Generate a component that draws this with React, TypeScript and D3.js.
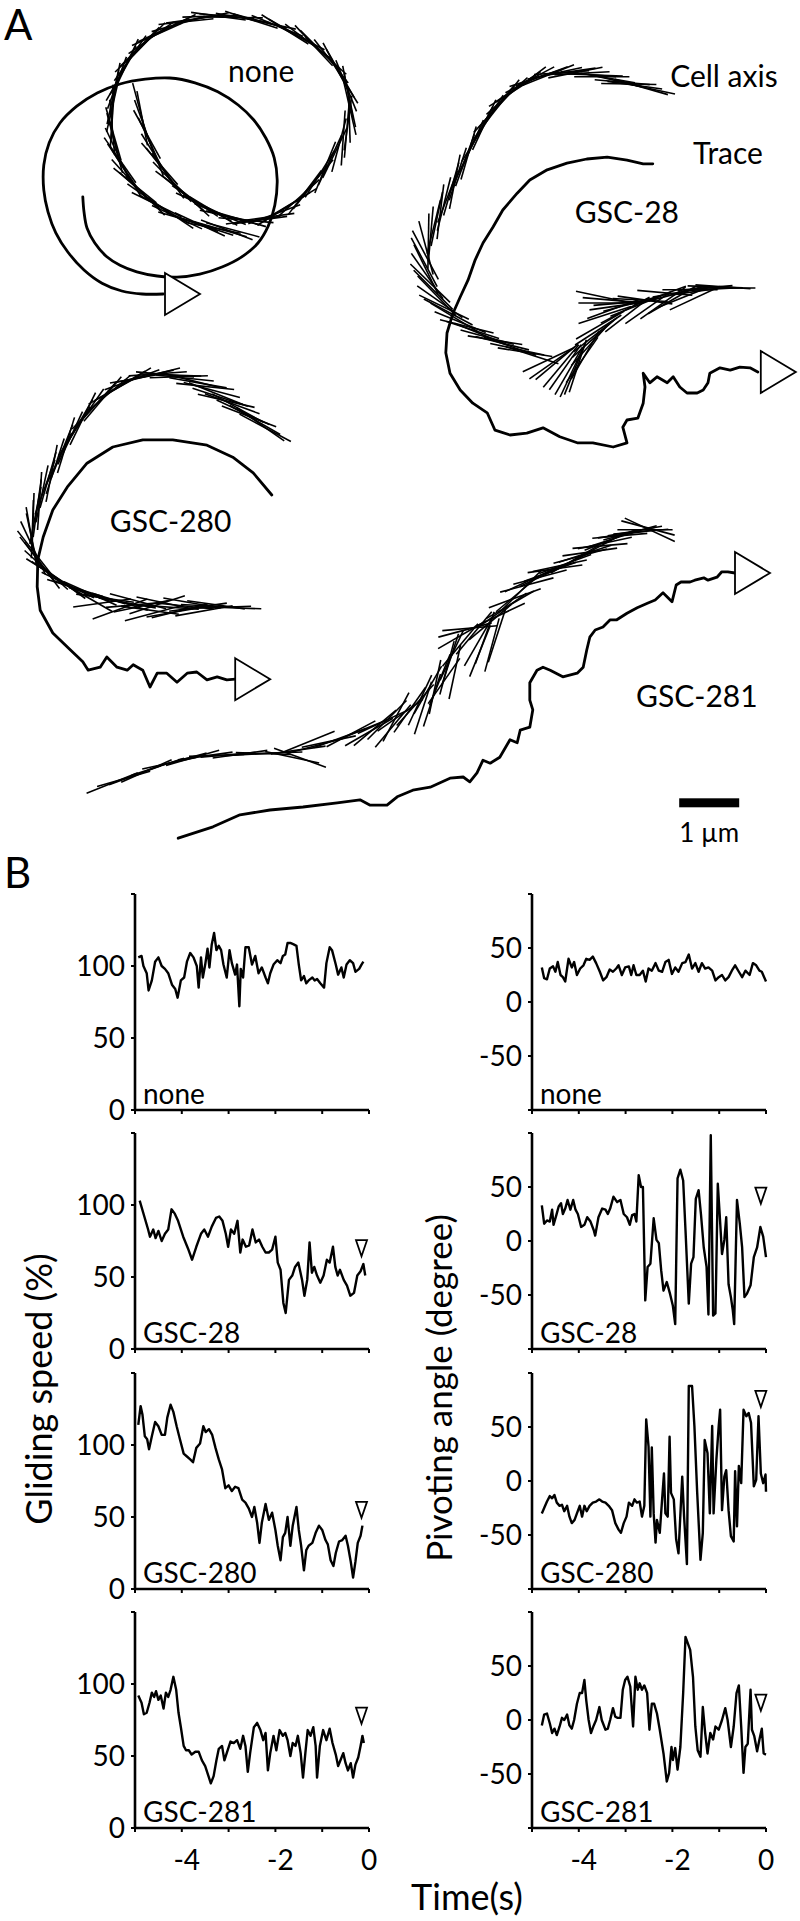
import React from 'react';
import * as d3 from 'd3';

const FONT = 'Lato, "Open Sans", "DejaVu Sans", sans-serif';

// ---------- Panel A: trajectories, in µm (scale bar = 1 µm) ----------
const UM_PX = 60;

// trace points [x, y]
const NONE_TRACE = [[1.38,3.28],[1.40,3.53],[1.45,3.80],[1.58,4.05],[1.77,4.27],[2.00,4.42],[2.28,4.53],[2.62,4.60],[2.95,4.62],[3.33,4.57],[3.70,4.45],[4.03,4.28],[4.30,4.05],[4.47,3.77],[4.58,3.42],[4.62,3.00],[4.57,2.63],[4.43,2.30],[4.23,2.00],[3.97,1.75],[3.63,1.53],[3.25,1.38],[2.83,1.30],[2.42,1.32],[2.00,1.40],[1.62,1.55],[1.28,1.77],[1.00,2.05],[0.82,2.38],[0.73,2.75],[0.73,3.17],[0.80,3.53],[0.93,3.88],[1.13,4.20],[1.40,4.50],[1.70,4.72],[2.03,4.85],[2.37,4.90],[2.72,4.90]];
const GSC28_TRACE = [[10.88,2.73],[10.72,2.73],[10.45,2.67],[10.12,2.62],[9.78,2.65],[9.45,2.72],[9.12,2.83],[8.83,3.00],[8.62,3.22],[8.38,3.50],[8.22,3.78],[8.05,4.05],[7.92,4.33],[7.80,4.67],[7.67,4.95],[7.55,5.22],[7.45,5.55],[7.43,5.88],[7.50,6.22],[7.67,6.50],[7.88,6.72],[8.12,6.88],[8.25,7.17],[8.50,7.25],[8.78,7.22],[9.05,7.13],[9.33,7.28],[9.62,7.38],[9.88,7.38],[10.22,7.45],[10.45,7.38],[10.38,7.12],[10.45,7.00],[10.63,6.97],[10.72,6.72],[10.75,6.45],[10.72,6.22],[10.83,6.38],[10.95,6.28],[11.12,6.38],[11.22,6.28],[11.33,6.45],[11.45,6.55],[11.62,6.55],[11.72,6.50],[11.80,6.38],[11.83,6.22],[12.00,6.13],[12.17,6.17],[12.33,6.12],[12.50,6.13],[12.63,6.20]];
const GSC280_TRACE = [[4.53,8.25],[4.22,7.88],[3.88,7.62],[3.45,7.42],[2.88,7.33],[2.38,7.33],[1.88,7.45],[1.45,7.72],[1.12,8.12],[0.88,8.50],[0.72,8.95],[0.63,9.33],[0.62,9.78],[0.67,10.17],[0.88,10.55],[1.17,10.83],[1.38,11.03],[1.47,11.17],[1.67,11.12],[1.78,10.95],[1.95,11.12],[2.12,11.17],[2.22,11.08],[2.38,11.17],[2.50,11.45],[2.62,11.22],[2.78,11.22],[2.95,11.37],[3.12,11.22],[3.28,11.20],[3.45,11.33],[3.62,11.28],[3.78,11.33],[3.92,11.32]];
const GSC281_TRACE = [[2.97,13.97],[3.55,13.78],[4.00,13.58],[4.50,13.50],[5.05,13.45],[5.62,13.38],[6.00,13.33],[6.17,13.42],[6.45,13.42],[6.62,13.28],[6.88,13.17],[7.17,13.12],[7.50,12.97],[7.72,12.95],[7.83,13.03],[7.95,12.88],[8.05,12.67],[8.17,12.72],[8.33,12.62],[8.50,12.33],[8.62,12.38],[8.67,12.17],[8.83,12.12],[8.88,11.83],[8.83,11.67],[8.83,11.38],[8.95,11.17],[9.05,11.12],[9.17,11.17],[9.38,11.28],[9.62,11.22],[9.72,11.12],[9.78,10.83],[9.83,10.62],[9.92,10.50],[10.05,10.45],[10.17,10.33],[10.28,10.33],[10.45,10.22],[10.62,10.13],[10.80,10.05],[10.92,10.00],[11.05,9.88],[11.20,10.03],[11.27,9.75],[11.35,9.70],[11.50,9.70],[11.58,9.67],[11.73,9.63],[11.80,9.67],[11.95,9.62],[12.03,9.53],[12.13,9.53],[12.25,9.55]];

// cell axis samples [x, y, angle in degrees]
const NONE_AXIS = [[2.33,1.83,75],[2.40,2.10,70],[2.50,2.38,65],[2.60,2.62,58],[2.72,2.83,52],[2.87,3.03,46],[3.05,3.22,40],[3.25,3.35,34],[3.45,3.47,28],[3.67,3.57,22],[3.88,3.63,15],[4.10,3.67,5],[4.33,3.67,-8],[4.57,3.57,-20],[4.78,3.45,-32],[4.98,3.30,-42],[5.17,3.12,-52],[5.33,2.90,-58],[5.50,2.67,-65],[5.65,2.42,-75],[5.78,2.17,-85],[5.82,1.92,88],[5.83,1.67,78],[5.77,1.43,68],[5.67,1.22,60],[5.52,1.02,52],[5.33,0.83,45],[5.12,0.68,37],[4.88,0.55,30],[4.62,0.43,22],[4.33,0.35,15],[4.05,0.30,10],[3.78,0.27,5],[3.50,0.27,-2],[3.22,0.32,-8],[2.97,0.40,-16],[2.72,0.50,-25],[2.52,0.63,-35],[2.33,0.78,-45],[2.17,0.97,-55],[2.05,1.17,-62],[1.95,1.38,-70],[1.88,1.62,-78],[1.87,1.87,-88],[1.87,2.12,85],[1.90,2.33,75],[1.95,2.55,65],[2.05,2.78,56],[2.17,3.00,48],[2.33,3.18,42],[2.50,3.33,35],[2.72,3.48,30],[2.95,3.62,25],[3.20,3.70,20],[3.45,3.78,18],[3.67,3.82,16],[3.88,3.83,15],
  [2.37,1.97,79],[2.45,2.24,61],[2.55,2.50,68],[2.66,2.73,49],[2.80,2.93,55],[2.96,3.13,37],[3.15,3.29,43],[3.35,3.41,25],[3.56,3.52,31],[3.78,3.60,12],[3.99,3.65,16],[4.22,3.67,-8],[4.45,3.62,-8],[4.68,3.51,-32],[4.88,3.38,-31],[5.08,3.21,-53],[5.25,3.01,-49],[5.42,2.79,-68],[5.58,2.55,-64],[5.72,2.30,-86],[5.80,2.05,-82],[5.83,1.80,77],[5.80,1.55,79],[5.72,1.33,58],[5.60,1.12,62],[5.43,0.93,42],[5.23,0.76,47],[5.00,0.62,27],[4.75,0.49,32],[4.48,0.39,12],[4.19,0.33,18],[3.92,0.29,1],[3.64,0.27,8],[3.36,0.30,-11],[3.10,0.36,-6],[2.85,0.45,-27],[2.62,0.57,-24],[2.43,0.71,-46],[2.25,0.88,-44],[2.11,1.07,-65],[2.00,1.28,-60],[1.92,1.50,-80],[1.88,1.75,-77],[1.87,2.00,-86],[1.89,2.23,74],[1.93,2.44,76],[2.00,2.67,55],[2.11,2.89,58],[2.25,3.09,39],[2.42,3.26,45],[2.61,3.41,26],[2.84,3.55,34],[3.08,3.66,16],[3.33,3.74,25],[3.56,3.80,11],[3.78,3.83,21]];
const GSC28_AXIS = [[10.80,1.47,12],[10.58,1.42,8],[10.37,1.37,5],[10.13,1.30,10],[9.92,1.25,2],[9.70,1.22,-3],[9.47,1.20,-8],[9.25,1.22,-12],[9.03,1.27,-20],[8.83,1.33,-28],[8.63,1.45,-34],[8.45,1.60,-42],[8.28,1.77,-50],[8.13,1.97,-56],[8.00,2.18,-62],[7.87,2.42,-66],[7.75,2.67,-70],[7.63,2.90,-72],[7.52,3.15,-74],[7.40,3.40,-76],[7.28,3.65,-78],[7.18,3.90,-85],[7.10,4.13,75],[7.07,4.37,62],[7.12,4.60,55],[7.22,4.83,45],[7.33,5.03,35],[7.47,5.20,28],[7.67,5.37,22],[7.88,5.50,18],[8.12,5.62,15],[8.37,5.72,14],[8.62,5.82,12],[8.87,5.92,18],[9.13,6.00,-25],[9.28,6.03,-40],[9.42,6.12,-55],[9.53,6.20,-65],[9.63,6.10,-72],[9.75,5.92,-60],[9.83,5.75,-48],[9.92,5.58,-38],[10.00,5.42,-30],[10.08,5.25,-18],[10.05,4.95,12],[10.17,5.00,5],[10.28,5.10,-8],[10.42,5.17,-28],[10.50,5.07,-15],[10.67,5.00,3],[10.80,5.13,-35],[11.00,4.93,-20],[11.08,4.88,5],[11.20,5.00,-30],[11.33,4.87,-10],[11.50,4.83,0],[11.58,4.97,-25],[11.75,4.80,-5],[11.92,4.78,2],[12.13,4.80,0],
  [10.69,1.45,16],[10.48,1.40,1],[10.25,1.34,13],[10.03,1.28,0],[9.81,1.24,5],[9.59,1.21,-11],[9.36,1.21,-4],[9.14,1.25,-22],[8.93,1.30,-18],[8.73,1.39,-37],[8.54,1.53,-32],[8.37,1.69,-52],[8.21,1.87,-47],[8.07,2.08,-65],[7.94,2.30,-58],[7.81,2.55,-74],[7.69,2.79,-65],[7.58,3.03,-79],[7.46,3.28,-69],[7.34,3.53,-83],[7.23,3.78,-76],[7.14,4.02,-89],[7.09,4.25,62],[7.10,4.49,64],[7.17,4.72,44],[7.28,4.93,46],[7.40,5.12,26],[7.57,5.29,31],[7.78,5.44,14],[8.00,5.56,22],[8.25,5.67,9],[8.50,5.77,19],[8.75,5.87,9],
  [9.20,6.05,-35],[9.35,6.10,-50],[9.48,6.18,-60],[9.58,6.15,-68],[9.70,6.00,-55],[9.88,5.65,-42],[9.97,5.50,-33],[10.10,5.05,0],[10.22,5.15,-20],[10.35,5.05,-5],[10.45,5.25,-38],[10.60,5.10,-22],[10.75,5.00,8],[11.05,5.05,-35],[11.25,4.90,-15],[11.40,4.95,-22],[11.65,4.85,-8],[11.85,4.82,-3],[12.05,4.78,4]];
const GSC280_AXIS = [[4.42,7.13,28],[4.25,7.00,30],[4.05,6.87,25],[3.87,6.73,20],[3.67,6.62,18],[3.53,6.50,15],[3.30,6.38,10],[3.08,6.30,6],[2.87,6.25,2],[2.63,6.23,-4],[2.42,6.27,-12],[2.20,6.33,-20],[2.00,6.43,-30],[1.80,6.57,-40],[1.62,6.72,-48],[1.45,6.88,-55],[1.30,7.08,-60],[1.17,7.30,-65],[1.03,7.53,-68],[0.92,7.77,-72],[0.80,8.00,-74],[0.70,8.23,-78],[0.62,8.47,-82],[0.55,8.70,-88],[0.52,8.93,80],[0.55,9.13,65],[0.63,9.33,52],[0.77,9.50,42],[0.93,9.63,34],[1.13,9.75,26],[1.37,9.85,20],[1.62,9.93,16],[1.87,10.00,12],[2.12,10.05,10],[2.37,10.10,-12],[2.50,10.17,8],[2.62,10.08,-18],[2.83,10.12,4],[2.92,10.20,-10],[3.08,10.10,6],[3.30,10.12,-8],[3.50,10.10,3],[3.70,10.12,-2],[3.87,10.13,2],
  [4.34,7.07,35],[4.15,6.94,21],[3.96,6.80,29],[3.77,6.68,13],[3.60,6.56,22],[3.42,6.44,6],[3.19,6.34,14],[2.98,6.28,-2],[2.75,6.24,5],[2.53,6.25,-14],[2.31,6.30,-10],[2.10,6.38,-31],[1.90,6.50,-29],[1.71,6.65,-50],[1.54,6.80,-46],[1.38,6.98,-64],[1.24,7.19,-57],[1.10,7.42,-73],[0.98,7.65,-64],[0.86,7.89,-79],[0.75,8.12,-70],[0.66,8.35,-86],[0.59,8.59,-79],[0.54,8.82,-88],[0.54,9.03,78],[0.59,9.23,52],[0.70,9.42,53],[0.85,9.57,32],[1.03,9.69,36],[1.25,9.80,17],[1.50,9.89,24],[1.75,9.97,8],[2.00,10.03,17],[2.25,10.08,-5],
  [2.00,10.15,-20],[2.30,10.02,15],[2.55,10.22,-15],[2.75,10.05,12],[3.00,10.18,-14],[3.20,10.05,10],[3.40,10.18,-10],[3.60,10.08,8],[1.70,10.05,-8],[1.45,9.95,30]];
const GSC281_AXIS = [[1.87,13.05,-22],[2.25,12.92,-20],[2.63,12.78,-18],[3.00,12.67,-15],[3.42,12.60,-8],[3.80,12.58,-5],[4.20,12.57,-3],[4.58,12.55,-2],[4.87,12.62,12],[4.97,12.50,-8],[5.00,12.63,20],[5.30,12.42,-15],[5.67,12.30,-20],[6.03,12.17,-22],[6.25,12.13,-40],[6.38,12.03,-25],[6.55,12.10,-50],[6.67,11.92,-35],[6.83,11.83,-55],[7.00,11.67,-65],[7.13,11.50,-60],[7.20,11.67,-72],[7.33,11.33,-68],[7.45,11.13,-75],[7.53,10.92,-65],[7.58,11.20,-78],[7.67,10.75,-50],[7.70,10.58,-30],[7.75,10.50,-15],[7.83,10.47,-5],[7.97,10.70,-60],[8.08,10.63,-70],[8.17,10.37,-40],[8.28,10.60,-72],[8.33,10.25,-25],[8.50,10.08,-30],[8.58,9.97,-20],[8.70,9.83,-45],[8.83,9.67,-25],[9.00,9.62,-15],[9.17,9.53,-20],[9.33,9.43,-12],[9.50,9.37,-25],[9.67,9.27,-15],[9.83,9.20,-8],[9.95,9.13,-28],[10.08,9.05,-12],[10.25,8.97,-18],[10.42,8.90,-8],[10.58,8.85,-10],[10.75,8.83,0],[10.83,8.83,25],
  [2.06,12.98,-16],[2.44,12.85,-24],[2.82,12.72,-12],[3.21,12.63,-16],[3.61,12.59,-2],[4.00,12.57,-8],[4.39,12.56,2],[5.15,12.36,-22],[5.48,12.36,-12],[5.85,12.23,-28],[6.15,12.20,-30],[6.45,12.00,-45],[6.60,11.95,-62],[6.92,11.75,-48],[7.05,11.80,-72],[7.25,11.45,-78],[7.40,11.35,-55],[7.50,11.00,-72],[7.90,10.55,-50],[8.00,10.85,-68],[8.20,10.75,-75],[8.40,10.15,-35],[8.62,9.90,-40],[8.78,9.75,-15],[9.08,9.58,-25],[9.25,9.48,-8],[9.42,9.40,-20],[9.58,9.32,-30],[9.75,9.23,-18],[10.00,9.10,-5],[10.17,9.00,-22],[10.33,8.93,-5],[10.50,8.88,-15],[10.68,8.86,-5],[10.80,8.80,15]];

const CELL_LENGTH = [0.92, 0.92, 0.97, 0.92];
const END_POINTS = [[2.75,4.90],[12.68,6.20],[3.92,11.32],[12.25,9.55]];

const A_LABELS = ['none', 'Cell axis', 'Trace', 'GSC-28', 'GSC-280', 'GSC-281'];
const A_LABEL_POS = [[3.80,1.37],[11.17,1.45],[11.55,2.73],[9.58,3.72],[1.83,8.87],[10.60,11.78]];
const SCALE_BAR_UM = 1;
const SCALE_BAR_POS = [11.32, 13.38];

// ---------- Panel B: time series [t (s), value] ----------
const GROUPS = ['none', 'GSC-28', 'GSC-280', 'GSC-281'];

const NONE_SPEED = [[-4.93,106],[-4.86,107],[-4.82,100],[-4.75,95],[-4.71,83],[-4.64,90],[-4.57,103],[-4.5,106],[-4.43,100],[-4.36,98],[-4.29,95],[-4.21,87],[-4.14,84],[-4.09,78],[-4.02,90],[-3.95,92],[-3.89,103],[-3.82,109],[-3.75,106],[-3.68,100],[-3.64,85],[-3.59,106],[-3.55,92],[-3.5,101],[-3.45,112],[-3.41,99],[-3.36,115],[-3.31,123],[-3.26,111],[-3.21,114],[-3.16,111],[-3.11,101],[-3.04,92],[-2.98,111],[-2.93,102],[-2.86,94],[-2.82,101],[-2.77,72],[-2.74,98],[-2.69,92],[-2.64,113],[-2.57,113],[-2.5,101],[-2.43,107],[-2.36,95],[-2.29,99],[-2.21,92],[-2.16,88],[-2.11,95],[-2.04,101],[-1.96,104],[-1.89,102],[-1.84,107],[-1.79,108],[-1.74,116],[-1.68,116],[-1.61,115],[-1.55,114],[-1.5,101],[-1.45,90],[-1.39,93],[-1.34,88],[-1.29,90],[-1.21,92],[-1.16,90],[-1.11,91],[-1.04,88],[-0.96,85],[-0.91,102],[-0.84,113],[-0.79,111],[-0.71,101],[-0.66,94],[-0.59,99],[-0.54,92],[-0.48,101],[-0.41,104],[-0.34,102],[-0.29,96],[-0.21,98],[-0.16,101],[-0.12,103]];
const GSC28_SPEED = [[-4.9,103],[-4.72,83],[-4.68,78],[-4.61,83],[-4.56,77],[-4.5,82],[-4.43,75],[-4.36,80],[-4.29,83],[-4.22,97],[-4.15,94],[-4.08,89],[-3.97,78],[-3.87,70],[-3.78,62],[-3.69,71],[-3.59,80],[-3.52,83],[-3.44,78],[-3.36,85],[-3.27,91],[-3.2,92],[-3.13,89],[-3.06,80],[-3.01,71],[-2.95,83],[-2.88,80],[-2.81,89],[-2.75,67],[-2.7,76],[-2.63,71],[-2.56,72],[-2.49,83],[-2.42,74],[-2.35,76],[-2.28,71],[-2.21,67],[-2.14,67],[-2.07,69],[-2.0,78],[-1.95,60],[-1.89,55],[-1.83,32],[-1.78,25],[-1.71,48],[-1.64,51],[-1.58,57],[-1.51,60],[-1.43,48],[-1.38,37],[-1.32,48],[-1.27,74],[-1.22,53],[-1.17,57],[-1.11,51],[-1.04,46],[-0.97,51],[-0.9,62],[-0.84,60],[-0.77,71],[-0.72,57],[-0.67,51],[-0.62,55],[-0.54,48],[-0.47,44],[-0.4,37],[-0.32,39],[-0.25,51],[-0.18,54],[-0.12,59],[-0.08,51]];
const GSC280_SPEED = [[-4.93,114],[-4.88,127],[-4.84,121],[-4.79,106],[-4.74,104],[-4.7,97],[-4.64,106],[-4.57,116],[-4.5,113],[-4.43,107],[-4.36,107],[-4.31,119],[-4.24,128],[-4.18,123],[-4.11,113],[-4.04,104],[-3.96,94],[-3.89,92],[-3.82,90],[-3.76,88],[-3.69,98],[-3.61,101],[-3.54,113],[-3.49,109],[-3.42,111],[-3.35,107],[-3.28,98],[-3.21,90],[-3.14,83],[-3.07,70],[-3.0,72],[-2.93,68],[-2.86,71],[-2.79,70],[-2.71,62],[-2.64,60],[-2.57,56],[-2.5,50],[-2.45,57],[-2.39,46],[-2.34,32],[-2.29,46],[-2.21,59],[-2.14,48],[-2.07,53],[-2.0,41],[-1.95,30],[-1.89,20],[-1.84,36],[-1.79,39],[-1.74,50],[-1.68,30],[-1.63,44],[-1.55,57],[-1.5,41],[-1.45,30],[-1.39,13],[-1.34,27],[-1.29,30],[-1.21,32],[-1.14,39],[-1.07,44],[-1.0,41],[-0.93,34],[-0.88,31],[-0.82,20],[-0.76,16],[-0.71,25],[-0.64,33],[-0.57,34],[-0.5,37],[-0.45,30],[-0.39,19],[-0.34,8],[-0.29,19],[-0.24,32],[-0.18,37],[-0.14,44]];
const GSC281_SPEED = [[-4.93,92],[-4.86,87],[-4.81,79],[-4.75,80],[-4.69,87],[-4.64,94],[-4.59,91],[-4.55,95],[-4.5,89],[-4.45,92],[-4.39,83],[-4.34,94],[-4.29,91],[-4.24,96],[-4.18,105],[-4.12,96],[-4.07,80],[-4.02,70],[-3.96,57],[-3.91,54],[-3.85,54],[-3.79,51],[-3.71,53],[-3.64,53],[-3.57,47],[-3.5,43],[-3.43,36],[-3.38,31],[-3.32,36],[-3.26,47],[-3.21,55],[-3.14,57],[-3.09,47],[-3.04,52],[-2.96,60],[-2.89,59],[-2.82,61],[-2.75,55],[-2.69,64],[-2.64,57],[-2.59,39],[-2.54,52],[-2.46,70],[-2.39,73],[-2.32,68],[-2.26,61],[-2.21,66],[-2.16,40],[-2.11,52],[-2.04,64],[-1.98,54],[-1.91,68],[-1.84,64],[-1.79,66],[-1.74,61],[-1.68,50],[-1.63,59],[-1.57,57],[-1.52,64],[-1.46,52],[-1.41,35],[-1.36,52],[-1.31,68],[-1.25,64],[-1.19,70],[-1.14,57],[-1.11,35],[-1.05,57],[-0.98,68],[-0.91,61],[-0.84,69],[-0.78,59],[-0.71,51],[-0.66,43],[-0.61,47],[-0.55,52],[-0.5,45],[-0.45,40],[-0.39,45],[-0.34,35],[-0.29,44],[-0.23,49],[-0.18,57],[-0.14,64],[-0.11,59]];

const NONE_ANGLE = [[-4.79,32],[-4.74,22],[-4.68,21],[-4.62,31],[-4.55,33],[-4.5,28],[-4.45,37],[-4.39,25],[-4.34,23],[-4.29,19],[-4.22,40],[-4.15,32],[-4.1,37],[-4.04,25],[-3.97,31],[-3.9,34],[-3.84,40],[-3.77,39],[-3.7,42],[-3.63,36],[-3.55,28],[-3.48,20],[-3.41,23],[-3.34,30],[-3.27,28],[-3.2,31],[-3.15,34],[-3.08,25],[-3.01,32],[-2.93,33],[-2.88,25],[-2.83,34],[-2.77,25],[-2.7,25],[-2.63,29],[-2.57,19],[-2.51,31],[-2.44,29],[-2.36,36],[-2.29,29],[-2.22,28],[-2.15,37],[-2.08,39],[-2.01,26],[-1.94,32],[-1.87,28],[-1.79,36],[-1.72,37],[-1.65,44],[-1.58,31],[-1.51,36],[-1.44,28],[-1.37,36],[-1.3,31],[-1.23,32],[-1.15,29],[-1.08,20],[-1.01,23],[-0.94,25],[-0.87,20],[-0.8,23],[-0.73,29],[-0.66,34],[-0.58,28],[-0.51,23],[-0.44,29],[-0.35,25],[-0.28,36],[-0.21,34],[-0.14,29],[-0.09,28],[0,19]];
const GSC28_ANGLE = [[-4.79,33],[-4.74,16],[-4.68,19],[-4.62,18],[-4.57,29],[-4.54,15],[-4.48,24],[-4.43,32],[-4.38,35],[-4.34,25],[-4.29,30],[-4.24,38],[-4.18,29],[-4.12,38],[-4.07,29],[-4.02,25],[-3.95,13],[-3.88,15],[-3.82,22],[-3.75,18],[-3.68,10],[-3.65,5],[-3.58,22],[-3.5,30],[-3.43,29],[-3.38,25],[-3.33,30],[-3.26,41],[-3.18,36],[-3.11,38],[-3.04,25],[-2.97,22],[-2.91,15],[-2.86,24],[-2.81,25],[-2.77,18],[-2.72,61],[-2.67,50],[-2.63,50],[-2.58,-55],[-2.53,-24],[-2.47,-21],[-2.4,21],[-2.34,1],[-2.29,-2],[-2.24,-27],[-2.19,-46],[-2.12,-38],[-2.05,-49],[-1.99,-60],[-1.94,-77],[-1.89,58],[-1.83,66],[-1.77,56],[-1.72,10],[-1.65,-58],[-1.6,-21],[-1.55,-15],[-1.5,39],[-1.44,47],[-1.39,25],[-1.33,-6],[-1.27,-24],[-1.23,-68],[-1.18,98],[-1.13,-69],[-1.08,-67],[-1.03,53],[-0.99,25],[-0.94,-12],[-0.89,1],[-0.85,22],[-0.8,-40],[-0.75,-52],[-0.71,-64],[-0.68,-77],[-0.62,38],[-0.56,16],[-0.51,-6],[-0.46,-52],[-0.41,-49],[-0.33,-41],[-0.26,-15],[-0.19,-6],[-0.12,13],[-0.06,4],[0,-15]];
const GSC280_ANGLE = [[-4.79,-30],[-4.74,-25],[-4.68,-19],[-4.62,-14],[-4.57,-16],[-4.52,-13],[-4.47,-20],[-4.41,-23],[-4.36,-22],[-4.31,-28],[-4.25,-23],[-4.2,-33],[-4.15,-39],[-4.09,-36],[-4.04,-30],[-3.98,-23],[-3.93,-33],[-3.88,-23],[-3.83,-28],[-3.77,-23],[-3.7,-20],[-3.63,-19],[-3.56,-17],[-3.5,-19],[-3.43,-20],[-3.36,-23],[-3.29,-27],[-3.22,-39],[-3.15,-45],[-3.1,-48],[-3.04,-39],[-2.98,-33],[-2.93,-20],[-2.86,-23],[-2.81,-17],[-2.76,-20],[-2.7,-19],[-2.65,-33],[-2.6,-23],[-2.56,57],[-2.51,32],[-2.47,-33],[-2.44,31],[-2.4,-30],[-2.36,-57],[-2.33,-36],[-2.27,-48],[-2.22,-17],[-2.18,7],[-2.15,-30],[-2.1,-33],[-2.06,41],[-2.03,-11],[-1.97,-17],[-1.92,-54],[-1.87,-67],[-1.79,4],[-1.75,-33],[-1.69,-77],[-1.65,88],[-1.58,88],[-1.53,51],[-1.47,-11],[-1.4,-73],[-1.35,-48],[-1.31,38],[-1.25,26],[-1.2,-30],[-1.15,51],[-1.12,-30],[-1.06,20],[-1.01,51],[-0.98,66],[-0.94,-27],[-0.89,4],[-0.85,10],[-0.8,-27],[-0.75,-51],[-0.69,-56],[-0.66,9],[-0.62,-42],[-0.58,14],[-0.53,-2],[-0.48,66],[-0.42,60],[-0.37,63],[-0.32,54],[-0.26,-5],[-0.21,1],[-0.16,60],[-0.11,7],[-0.06,-2],[-0.01,6],[0,-10]];
const GSC281_ANGLE = [[-4.79,-5],[-4.74,5],[-4.68,6],[-4.62,-3],[-4.57,-12],[-4.52,-8],[-4.47,-14],[-4.41,-6],[-4.36,2],[-4.31,0],[-4.25,5],[-4.2,-5],[-4.15,-8],[-4.1,0],[-4.04,15],[-3.98,25],[-3.93,25],[-3.88,37],[-3.84,18],[-3.79,0],[-3.74,-12],[-3.68,-5],[-3.63,0],[-3.56,12],[-3.51,0],[-3.43,-9],[-3.38,-8],[-3.33,0],[-3.27,11],[-3.22,3],[-3.17,2],[-3.11,2],[-3.06,28],[-3.01,37],[-2.96,40],[-2.9,31],[-2.84,-6],[-2.79,40],[-2.74,28],[-2.7,34],[-2.65,28],[-2.6,32],[-2.54,25],[-2.49,-9],[-2.44,15],[-2.39,15],[-2.33,6],[-2.27,-9],[-2.19,-31],[-2.12,-57],[-2.07,-49],[-2.02,-25],[-1.99,-37],[-1.94,-26],[-1.89,-46],[-1.83,-25],[-1.77,25],[-1.72,77],[-1.67,71],[-1.62,65],[-1.56,40],[-1.51,-6],[-1.46,-28],[-1.4,-34],[-1.35,12],[-1.3,-12],[-1.25,-31],[-1.19,-12],[-1.13,-18],[-1.08,-6],[-1.01,-9],[-0.94,0],[-0.87,11],[-0.82,0],[-0.75,-25],[-0.69,-6],[-0.63,25],[-0.58,32],[-0.53,-6],[-0.48,-49],[-0.44,-25],[-0.39,-22],[-0.33,28],[-0.3,-9],[-0.25,-15],[-0.19,-29],[-0.14,-18],[-0.09,-8],[-0.05,-31],[0,-32]];

// open triangle markers [t, value]
const SPEED_MARKS = [null, [-0.16,70], [-0.16,55], [-0.16,78]];
const ANGLE_MARKS = [null, [-0.11,42], [-0.11,76], [-0.11,16]];

const SPEED_TICKS = [0, 50, 100, 150];
const SPEED_LABELS = [0, 50, 100];
const ANGLE_TICKS = [-100, -50, 0, 50, 100];
const ANGLE_LABELS = [-50, 0, 50];
const TIME_TICKS = [-5, -4, -3, -2, -1, 0];
const TIME_LABELS = [-4, -2, 0];

const ROW_TOPS = [894, 1133, 1373, 1612];
const ROW_H = 216;

export default function App() {
  const um = d3.scaleLinear().domain([0, 1]).range([0, UM_PX]);
  const trace = d3.line().x(d => um(d[0])).y(d => um(d[1]));
  const smooth = d3.line().x(d => um(d[0])).y(d => um(d[1])).curve(d3.curveCatmullRom.alpha(0.5));

  const traces = [NONE_TRACE, GSC28_TRACE, GSC280_TRACE, GSC281_TRACE];
  const axes = [NONE_AXIS, GSC28_AXIS, GSC280_AXIS, GSC281_AXIS];

  const columns = [
    { x0: 135, x1: 369, domain: [0, 150], ticks: SPEED_TICKS, labels: SPEED_LABELS,
      series: [NONE_SPEED, GSC28_SPEED, GSC280_SPEED, GSC281_SPEED], marks: SPEED_MARKS },
    { x0: 532, x1: 766, domain: [-100, 100], ticks: ANGLE_TICKS, labels: ANGLE_LABELS,
      series: [NONE_ANGLE, GSC28_ANGLE, GSC280_ANGLE, GSC281_ANGLE], marks: ANGLE_MARKS },
  ];

  return (
    <svg width={800} height={1921} style={{ position: 'absolute', left: 0, top: 0, background: '#fff' }}
      fontFamily={FONT}>
      <rect width={800} height={1921} fill="#fff" />
      {/* Panel A */}
      <text x={4} y={40} fontSize={42}>A</text>
      {axes.map((lines, ci) => (
        <g key={'ax' + ci} stroke="#000" strokeWidth={1.6} strokeLinecap="butt">
          {lines.map((d, i) => {
            const half = um(CELL_LENGTH[ci]) / 2;
            const r = (d[2] * Math.PI) / 180;
            const cx = um(d[0]), cy = um(d[1]);
            return <line key={i} x1={cx - Math.cos(r) * half} y1={cy - Math.sin(r) * half}
              x2={cx + Math.cos(r) * half} y2={cy + Math.sin(r) * half} />;
          })}
        </g>
      ))}
      {traces.map((t, ci) => (
        <path key={'tr' + ci} d={(ci === 0 ? smooth : trace)(t)} fill="none" stroke="#000"
          strokeWidth={2.8} strokeLinejoin="round" strokeLinecap="round" />
      ))}
      {END_POINTS.map((p, i) => {
        const x = um(p[0]), y = um(p[1]);
        return <path key={'end' + i} d={`M${x},${y - 21}L${x + 35},${y}L${x},${y + 21}Z`}
          fill="#fff" stroke="#000" strokeWidth={1.8} strokeLinejoin="miter" />;
      })}
      {A_LABELS.map((s, i) => (
        <text key={'al' + i} x={um(A_LABEL_POS[i][0])} y={um(A_LABEL_POS[i][1])} fontSize={30}>{s}</text>
      ))}
      <rect x={um(SCALE_BAR_POS[0])} y={um(SCALE_BAR_POS[1]) - 4.5} width={um(SCALE_BAR_UM)} height={9} fill="#000" />
      <text x={um(SCALE_BAR_POS[0] + SCALE_BAR_UM / 2)} y={842} fontSize={26} textAnchor="middle">1 µm</text>

      {/* Panel B */}
      <text x={4} y={888} fontSize={42}>B</text>
      {columns.map((col, c) => {
        const x = d3.scaleLinear().domain([-5, 0]).range([col.x0, col.x1]);
        return (
          <g key={'col' + c}>
            {ROW_TOPS.map((top, r) => {
              const y = d3.scaleLinear().domain(col.domain).range([top + ROW_H, top]);
              const line = d3.line().x(d => x(d[0])).y(d => y(d[1]));
              const mk = col.marks[r];
              const bottom = top + ROW_H;
              return (
                <g key={'p' + r}>
                  <path d={line(col.series[r])} fill="none" stroke="#000" strokeWidth={2.4}
                    strokeLinejoin="round" />
                  <line x1={col.x0} x2={col.x0} y1={top} y2={bottom} stroke="#000" strokeWidth={2.6} />
                  <line x1={col.x0} x2={col.x1} y1={bottom} y2={bottom} stroke="#000" strokeWidth={2.6} />
                  {col.ticks.map(v => (
                    <line key={'yt' + v} x1={col.x0 - 4} x2={col.x0} y1={y(v)} y2={y(v)} stroke="#000" strokeWidth={2} />
                  ))}
                  {col.labels.map(v => (
                    <text key={'yl' + v} x={col.x0 - 10} y={y(v)} dy="0.35em" textAnchor="end" fontSize={28}>{v}</text>
                  ))}
                  {TIME_TICKS.map(t => (
                    <line key={'xt' + t} x1={x(t)} x2={x(t)} y1={bottom} y2={bottom + 4} stroke="#000" strokeWidth={2} />
                  ))}
                  {r === ROW_TOPS.length - 1 && TIME_LABELS.map(t => (
                    <text key={'xl' + t} x={x(t) + (t < 0 ? 5 : 0)} y={1870} textAnchor="middle" fontSize={28}>{String(t)}</text>
                  ))}
                  <text x={col.x0 + 8} y={bottom - 6} fontSize={28}>{GROUPS[r]}</text>
                  {mk && (
                    <path d={`M${x(mk[0]) - 5.5},${y(mk[1]) - 8}L${x(mk[0]) + 5.5},${y(mk[1]) - 8}L${x(mk[0])},${y(mk[1]) + 8}Z`}
                      fill="#fff" stroke="#000" strokeWidth={1.8} />
                  )}
                </g>
              );
            })}
          </g>
        );
      })}
      <text transform="translate(52,1389) rotate(-90)" textAnchor="middle" fontSize={36}>Gliding speed (%)</text>
      <text transform="translate(452,1388) rotate(-90)" textAnchor="middle" fontSize={35}>Pivoting angle (degree)</text>
      <text x={467} y={1910} textAnchor="middle" fontSize={36}>Time(s)</text>
    </svg>
  );
}
